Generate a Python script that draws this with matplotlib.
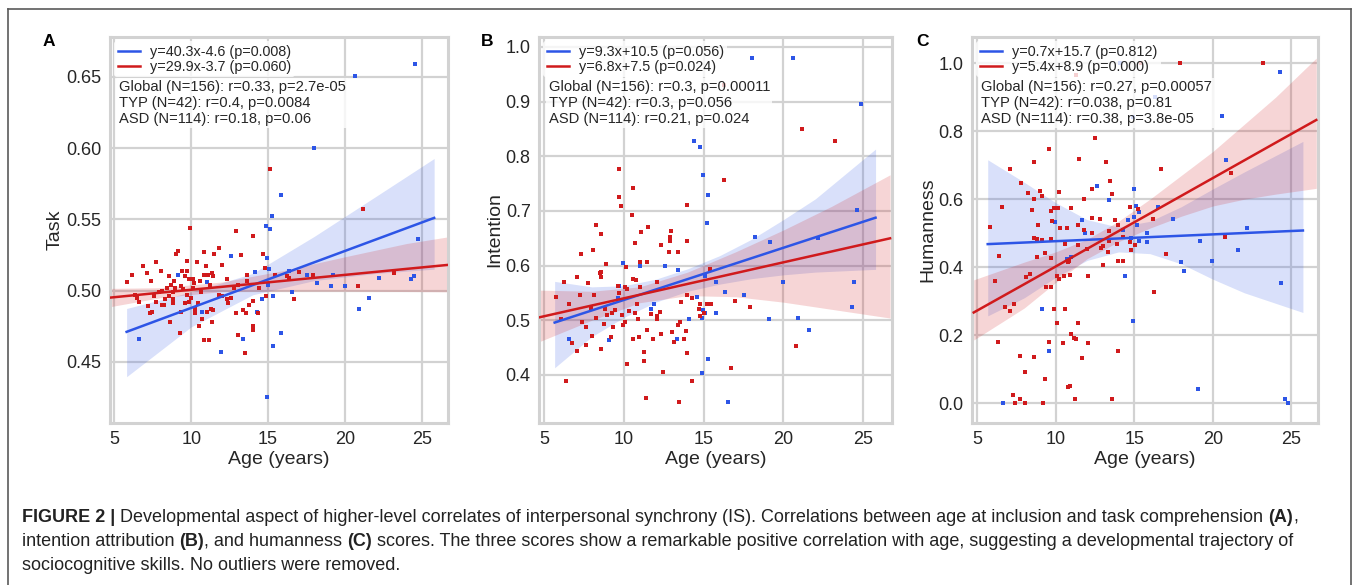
import matplotlib
matplotlib.use("Agg")
import matplotlib.pyplot as plt
from matplotlib.lines import Line2D
import numpy as np

plt.rcParams['font.family'] = ['Liberation Sans', 'DejaVu Sans']

BLUE = '#2d55e6'
RED = '#d01a1c'
GRID = '#d2d2d2'
TXT = '#262626'

# ---------------- Panel A (Task) ----------------
A_typ_age = [24.57, 20.62, 17.99, 15.82, 15.24, 14.85, 15.10, 14.91, 12.59, 24.78, 15.04, 9.12, 14.15,
             16.35, 17.52, 19.19, 22.22, 24.46, 24.31, 18.21, 19.10, 20.01, 15.02, 16.54, 15.33, 14.61,
             21.59, 20.90, 11.03, 10.73, 14.31, 6.63, 13.35, 11.92, 15.82, 15.30, 14.91]
A_typ_val = [0.659, 0.6505, 0.600, 0.567, 0.552, 0.545, 0.543, 0.5225, 0.524, 0.536, 0.515, 0.511, 0.513,
             0.514, 0.511, 0.511, 0.509, 0.510, 0.508, 0.505, 0.503, 0.503, 0.504, 0.499, 0.496, 0.494,
             0.495, 0.487, 0.506, 0.485, 0.485, 0.466, 0.466, 0.457, 0.470, 0.461, 0.425]
A_asd_age = [15.13, 21.20, 9.92, 12.92, 14.00, 13.22, 14.70, 11.81, 11.51, 10.84, 9.12, 9.01, 9.75, 10.36,
             7.71, 8.02, 6.84, 6.13, 5.80, 7.14, 7.40, 8.58, 8.86, 8.67, 8.41, 8.08, 9.40, 9.70, 9.62,
             9.86, 10.10, 10.20, 9.32, 8.97, 10.94, 11.12, 11.36, 10.84, 10.57, 10.10, 10.64, 9.75, 9.45,
             8.84, 8.54, 8.32, 7.93, 7.73, 6.35, 6.46, 6.63, 7.19, 7.43, 7.32, 8.12, 8.25, 8.80, 8.84,
             8.62, 9.27, 9.32, 9.60, 9.88, 10.00, 10.25, 10.47, 10.25, 10.53, 10.68, 10.84, 11.14, 11.01,
             11.27, 11.40, 11.34, 11.81, 12.03, 12.31, 12.38, 12.59, 12.00, 12.31, 13.05, 12.92, 13.35,
             13.57, 13.05, 13.52, 13.61, 13.65, 14.00, 13.78, 14.03, 14.03, 14.39, 14.33, 14.81, 14.85,
             15.43, 16.22, 16.33, 16.69, 17.02, 17.95, 20.82, 23.20, 11.45, 12.80, 11.20, 7.60]
A_asd_val = [0.585, 0.557, 0.544, 0.542, 0.538, 0.525, 0.526, 0.530, 0.526, 0.527, 0.528, 0.526, 0.521, 0.520,
             0.520, 0.514, 0.517, 0.511, 0.506, 0.512, 0.507, 0.510, 0.507, 0.504, 0.502, 0.500, 0.514,
             0.514, 0.510, 0.508, 0.508, 0.505, 0.503, 0.502, 0.517, 0.511, 0.512, 0.511, 0.507, 0.502,
             0.499, 0.497, 0.501, 0.499, 0.496, 0.494, 0.499, 0.492, 0.497, 0.495, 0.492, 0.489, 0.485,
             0.484, 0.490, 0.490, 0.494, 0.491, 0.478, 0.470, 0.485, 0.491, 0.492, 0.495, 0.484, 0.491,
             0.487, 0.475, 0.480, 0.465, 0.465, 0.485, 0.487, 0.486, 0.478, 0.497, 0.496, 0.494, 0.491,
             0.495, 0.518, 0.508, 0.504, 0.484, 0.486, 0.484, 0.469, 0.456, 0.511, 0.507, 0.493, 0.490,
             0.475, 0.472, 0.502, 0.484, 0.516, 0.496, 0.511, 0.510, 0.509, 0.494, 0.513, 0.511, 0.503,
             0.512, 0.510, 0.502, 0.504, 0.496]
A_typ_fit_x = [5.8, 10, 14, 18, 22, 25.8]
A_typ_fit_y = [0.471, 0.4878, 0.5038, 0.5198, 0.5358, 0.551]
A_typ_ci_lo = [0.4395, 0.4745, 0.4970, 0.5070, 0.5120, 0.5150]
A_typ_ci_hi = [0.4874, 0.4990, 0.5120, 0.5380, 0.5660, 0.5927]
A_asd_fit_x = [4.7, 8, 12, 16, 20, 24, 26.7]
A_asd_fit_y = [0.4950, 0.4985, 0.5026, 0.5068, 0.5110, 0.5152, 0.5180]
A_asd_ci_lo = [0.4886, 0.4950, 0.4993, 0.4995, 0.4995, 0.4993, 0.4991]
A_asd_ci_hi = [0.5015, 0.5020, 0.5060, 0.5140, 0.5237, 0.5330, 0.5377]

# ---------------- Panel B (Intention) ----------------
B_typ_age = [18.03, 20.60, 24.83, 14.42, 14.78, 14.99, 15.30, 15.20, 24.58, 18.19, 19.18, 22.19, 9.98,
             11.01, 12.58, 13.42, 15.09, 9.72, 9.61, 15.76, 16.31, 17.50, 14.59, 11.89, 11.70, 14.95,
             15.09, 15.79, 14.11, 14.93, 19.11, 20.90, 21.59, 19.97, 24.41, 24.31, 6.57, 9.08, 13.31,
             15.26, 14.91, 16.50]
B_typ_val = [0.979, 0.979, 0.895, 0.828, 0.817, 0.765, 0.729, 0.678, 0.702, 0.652, 0.643, 0.650, 0.604,
             0.600, 0.599, 0.592, 0.581, 0.563, 0.540, 0.569, 0.551, 0.547, 0.543, 0.529, 0.520, 0.518,
             0.514, 0.513, 0.502, 0.504, 0.502, 0.504, 0.483, 0.569, 0.569, 0.525, 0.466, 0.463, 0.466,
             0.429, 0.404, 0.351]
B_asd_age = [21.19, 23.20, 9.69, 16.29, 9.67, 9.80, 10.57, 13.98, 10.49, 8.29, 8.60, 11.49, 11.07, 12.98,
             12.87, 12.87, 13.98, 10.72, 12.31, 7.30, 8.10, 12.81, 13.40, 8.87, 10.11, 11.00, 11.43, 8.48,
             8.60, 8.60, 7.07, 6.28, 7.79, 12.06, 10.55, 10.74, 9.61, 10.07, 10.21, 7.28, 8.16, 5.77, 9.67,
             15.37, 13.98, 14.28, 13.59, 16.98, 17.88, 14.78, 15.20, 6.57, 7.97, 8.81, 9.44, 9.25, 8.98,
             9.90, 10.80, 10.32, 10.72, 11.68, 12.10, 12.27, 6.09, 8.29, 10.07, 10.91, 12.06, 14.78,
             15.03, 14.74, 7.41, 7.66, 8.79, 9.35, 9.92, 13.54, 13.42, 13.90, 12.31, 11.81, 13.00, 11.47,
             10.93, 10.55, 9.19, 8.00, 6.78, 7.09, 7.66, 8.58, 13.15, 13.80, 11.28, 11.28, 13.98, 10.19,
             12.48, 14.30, 6.38, 11.39, 13.48, 16.71, 20.77, 15.45, 11.03, 16.30]
B_asd_val = [0.850, 0.828, 0.776, 0.756, 0.725, 0.709, 0.741, 0.711, 0.692, 0.674, 0.658, 0.670, 0.662,
             0.663, 0.652, 0.645, 0.644, 0.641, 0.638, 0.622, 0.628, 0.625, 0.624, 0.602, 0.598, 0.606,
             0.606, 0.586, 0.588, 0.579, 0.579, 0.570, 0.568, 0.569, 0.575, 0.574, 0.563, 0.560, 0.557,
             0.547, 0.547, 0.542, 0.550, 0.593, 0.547, 0.541, 0.534, 0.535, 0.524, 0.530, 0.530, 0.530,
             0.523, 0.521, 0.519, 0.514, 0.510, 0.510, 0.530, 0.517, 0.513, 0.511, 0.507, 0.515, 0.502,
             0.504, 0.497, 0.502, 0.502, 0.507, 0.514, 0.520, 0.497, 0.488, 0.493, 0.487, 0.491, 0.496,
             0.491, 0.481, 0.474, 0.466, 0.479, 0.482, 0.470, 0.466, 0.469, 0.471, 0.458, 0.444, 0.455,
             0.447, 0.461, 0.466, 0.442, 0.426, 0.440, 0.420, 0.406, 0.388, 0.389, 0.357, 0.350, 0.413,
             0.452, 0.530, 0.561, 0.930]
B_typ_fit_x = [5.67, 8, 10, 12, 14, 16, 18, 20, 22, 25.77]
B_typ_fit_y = [0.4957, 0.5179, 0.5370, 0.5561, 0.5752, 0.5943, 0.6134, 0.6325, 0.6516, 0.6875]
B_typ_ci_lo = [0.413, 0.470, 0.505, 0.533, 0.553, 0.566, 0.576, 0.583, 0.588, 0.593]
B_typ_ci_hi = [0.571, 0.561, 0.563, 0.575, 0.594, 0.618, 0.648, 0.684, 0.722, 0.813]
B_asd_fit_x = [4.73, 8, 11, 14, 17, 20, 23, 26.68]
B_asd_fit_y = [0.5054, 0.5269, 0.5466, 0.5664, 0.5861, 0.6059, 0.6256, 0.6498]
B_asd_ci_lo = [0.461, 0.500, 0.532, 0.545, 0.543, 0.533, 0.520, 0.504]
B_asd_ci_hi = [0.555, 0.553, 0.561, 0.588, 0.625, 0.665, 0.708, 0.766]

# ---------------- Panel C (Humanness) ----------------
C_typ_age = [24.28, 20.58, 20.87, 14.99, 12.62, 13.40, 15.14, 16.49, 15.29, 17.49, 11.71, 14.61, 14.99,
             15.20, 11.90, 15.79, 22.16, 9.99, 14.31, 14.78, 15.29, 15.79, 19.20, 21.59, 19.98, 17.97,
             18.19, 14.42, 10.71, 11.01, 24.37, 14.90, 9.13, 9.61, 19.07, 24.58, 24.79, 6.65, 16.32,
             14.10, 14.95]
C_typ_val = [0.975, 0.846, 0.715, 0.629, 0.639, 0.597, 0.580, 0.576, 0.563, 0.542, 0.539, 0.539, 0.549,
             0.523, 0.501, 0.500, 0.516, 0.533, 0.510, 0.486, 0.477, 0.475, 0.478, 0.451, 0.419, 0.415,
             0.388, 0.375, 0.425, 0.431, 0.355, 0.243, 0.276, 0.154, 0.041, 0.013, 0.001, 0.001, 0.902,
             1.000, 0.843]
C_asd_age = [23.20, 17.91, 15.41, 11.31, 12.51, 9.61, 11.52, 8.60, 13.19, 16.70, 7.12, 21.17, 13.49, 7.81,
             12.30, 8.22, 10.19, 13.61, 8.98, 9.11, 8.60, 11.79, 6.61, 8.49, 9.70, 9.93, 10.14, 11.00,
             14.71, 15.22, 5.80, 8.89, 9.78, 10.31, 10.71, 11.41, 11.79, 12.32, 12.81, 13.78, 13.40, 13.99,
             14.31, 16.20, 8.60, 8.81, 9.15, 9.72, 12.30, 13.42, 10.61, 11.41, 11.98, 12.89, 13.00, 13.93,
             13.32, 15.05, 14.82, 14.74, 20.81, 17.00, 6.42, 8.81, 9.32, 9.70, 10.76, 10.86, 13.00, 13.99,
             14.31, 6.12, 8.13, 8.34, 10.08, 10.23, 10.55, 10.90, 12.09, 9.40, 9.70, 16.28, 6.80, 7.12,
             7.33, 9.89, 10.61, 10.12, 11.41, 10.99, 11.14, 11.29, 6.31, 9.61, 10.50, 12.09, 13.99, 7.71,
             8.60, 11.71, 8.03, 9.30, 10.78, 10.93, 7.29, 7.71, 11.22, 13.61, 7.43, 8.03, 9.19]
C_asd_val = [1.000, 1.000, 1.000, 0.966, 0.781, 0.748, 0.717, 0.710, 0.709, 0.688, 0.688, 0.678, 0.653, 0.647,
             0.630, 0.618, 0.620, 0.615, 0.625, 0.609, 0.602, 0.602, 0.578, 0.568, 0.566, 0.574, 0.574,
             0.573, 0.578, 0.571, 0.517, 0.524, 0.537, 0.515, 0.515, 0.523, 0.510, 0.544, 0.542, 0.539,
             0.508, 0.524, 0.490, 0.542, 0.486, 0.482, 0.480, 0.484, 0.500, 0.478, 0.468, 0.465, 0.453,
             0.456, 0.461, 0.468, 0.446, 0.464, 0.451, 0.473, 0.490, 0.439, 0.433, 0.429, 0.441, 0.428,
             0.415, 0.417, 0.407, 0.417, 0.417, 0.360, 0.371, 0.379, 0.375, 0.366, 0.375, 0.377, 0.375,
             0.343, 0.343, 0.327, 0.284, 0.272, 0.291, 0.277, 0.277, 0.235, 0.237, 0.204, 0.191, 0.188,
             0.181, 0.181, 0.178, 0.176, 0.155, 0.140, 0.137, 0.134, 0.093, 0.071, 0.049, 0.051, 0.025,
             0.013, 0.013, 0.012, 0.002, 0.002, 0.002]
C_typ_fit_x = [5.68, 8, 10, 12, 14, 16, 18, 20, 22, 25.74]
C_typ_fit_y = [0.468, 0.4726, 0.4766, 0.4806, 0.4846, 0.4886, 0.4926, 0.4966, 0.5006, 0.508]
C_typ_ci_lo = [0.257, 0.310, 0.370, 0.420, 0.445, 0.440, 0.410, 0.365, 0.325, 0.267]
C_typ_ci_hi = [0.716, 0.650, 0.590, 0.540, 0.518, 0.535, 0.578, 0.630, 0.680, 0.770]
C_asd_fit_x = [4.79, 8, 10, 12, 14, 16, 18, 20, 22, 24, 26.59]
C_asd_fit_y = [0.267, 0.350, 0.402, 0.454, 0.506, 0.558, 0.610, 0.662, 0.714, 0.766, 0.833]
C_asd_ci_lo = [0.186, 0.280, 0.355, 0.425, 0.475, 0.515, 0.550, 0.580, 0.600, 0.615, 0.632]
C_asd_ci_hi = [0.363, 0.415, 0.445, 0.482, 0.535, 0.600, 0.670, 0.740, 0.820, 0.900, 1.015]

panel_letters = ['A', 'B', 'C']
y_labels = ['Task', 'Intention', 'Humanness']
x_label = 'Age (years)'
legend_texts = [
    ['y=40.3x-4.6 (p=0.008)', 'y=29.9x-3.7 (p=0.060)'],
    ['y=9.3x+10.5 (p=0.056)', 'y=6.8x+7.5 (p=0.024)'],
    ['y=0.7x+15.7 (p=0.812)', 'y=5.4x+8.9 (p=0.000)'],
]
stat_texts = [
    'Global (N=156): r=0.33, p=2.7e-05\nTYP (N=42): r=0.4, p=0.0084\nASD (N=114): r=0.18, p=0.06',
    'Global (N=156): r=0.3, p=0.00011\nTYP (N=42): r=0.3, p=0.056\nASD (N=114): r=0.21, p=0.024',
    'Global (N=156): r=0.27, p=0.00057\nTYP (N=42): r=0.038, p=0.81\nASD (N=114): r=0.38, p=3.8e-05',
]
y_ticks = [[0.45, 0.50, 0.55, 0.60, 0.65],
           [0.4, 0.5, 0.6, 0.7, 0.8, 0.9, 1.0],
           [0.0, 0.2, 0.4, 0.6, 0.8, 1.0]]
y_ticklabels = [['0.45', '0.50', '0.55', '0.60', '0.65'],
                ['0.4', '0.5', '0.6', '0.7', '0.8', '0.9', '1.0'],
                ['0.0', '0.2', '0.4', '0.6', '0.8', '1.0']]
x_ticks = [5, 10, 15, 20, 25]
y_lims = [(0.407, 0.678), (0.312, 1.018), (-0.058, 1.077)]
x_lims = [(4.72, 26.7), (4.69, 26.8), (4.68, 26.7)]

caption_lines = [
    [('FIGURE 2 | ', 'bold'), ('Developmental aspect of higher-level correlates of interpersonal synchrony (IS). '
      'Correlations between age at inclusion and task comprehension ', 'normal'), ('(A)', 'bold'), (',', 'normal')],
    [('intention attribution ', 'normal'), ('(B)', 'bold'), (', and humanness ', 'normal'), ('(C)', 'bold'),
     (' scores. The three scores show a remarkable positive correlation with age, suggesting a developmental '
      'trajectory of', 'normal')],
    [('sociocognitive skills. No outliers were removed.', 'normal')],
]

panels = [
    (A_typ_age, A_typ_val, A_asd_age, A_asd_val, A_typ_fit_x, A_typ_fit_y, A_typ_ci_lo, A_typ_ci_hi,
     A_asd_fit_x, A_asd_fit_y, A_asd_ci_lo, A_asd_ci_hi),
    (B_typ_age, B_typ_val, B_asd_age, B_asd_val, B_typ_fit_x, B_typ_fit_y, B_typ_ci_lo, B_typ_ci_hi,
     B_asd_fit_x, B_asd_fit_y, B_asd_ci_lo, B_asd_ci_hi),
    (C_typ_age, C_typ_val, C_asd_age, C_asd_val, C_typ_fit_x, C_typ_fit_y, C_typ_ci_lo, C_typ_ci_hi,
     C_asd_fit_x, C_asd_fit_y, C_asd_ci_lo, C_asd_ci_hi),
]

W, H = 1357, 585
fig = plt.figure(figsize=(W / 100, H / 100), dpi=100)

# axes boxes in pixels: left, right, top, bottom
boxes = [(110, 448, 37, 423), (539, 892, 37, 423), (972, 1318, 37, 423)]
letter_x = [43, 481, 916]
ylabel_x = [55, 495, 928]

for i, (box, data) in enumerate(zip(boxes, panels)):
    l, r, t, b = box
    ax = fig.add_axes([l / W, 1 - b / H, (r - l) / W, (b - t) / H])
    (ta, tv, aa, av, tfx, tfy, tlo, thi, afx, afy, alo, ahi) = data
    ax.set_facecolor('white')
    # TYP (blue)
    ax.scatter(ta, tv, s=12, marker='s', color=BLUE, linewidths=0, zorder=3)
    ax.fill_between(tfx, tlo, thi, color=BLUE, alpha=0.18, linewidth=0, zorder=2)
    ax.plot(tfx, tfy, color=BLUE, lw=1.8, zorder=4)
    # ASD (red)
    ax.scatter(aa, av, s=12, marker='s', color=RED, linewidths=0, zorder=3)
    ax.fill_between(afx, alo, ahi, color=RED, alpha=0.18, linewidth=0, zorder=2)
    ax.plot(afx, afy, color=RED, lw=1.8, zorder=4)

    ax.set_xlim(*x_lims[i])
    ax.set_ylim(*y_lims[i])
    ax.set_xticks(x_ticks)
    ax.set_xticklabels([str(v) for v in x_ticks])
    ax.set_yticks(y_ticks[i])
    ax.set_yticklabels(y_ticklabels[i])
    ax.tick_params(length=0, labelsize=13, colors=TXT, pad=6)
    ax.grid(True, color=GRID, lw=1.6, zorder=0)
    ax.set_axisbelow(True)
    for sp in ax.spines.values():
        sp.set_color(GRID)
        sp.set_linewidth(2.2)
    ax.set_xlabel(x_label, fontsize=14, color=TXT, labelpad=2)
    fig.text(ylabel_x[i] / W, 1 - 230 / H, y_labels[i], rotation=90, fontsize=14, color=TXT,
             ha='center', va='center')
    fig.text(letter_x[i] / W, 1 - 41 / H, panel_letters[i], fontsize=12.5, fontweight='bold',
             color='black', ha='left', va='center')

    handles = [Line2D([], [], color=BLUE, lw=1.8), Line2D([], [], color=RED, lw=1.8)]
    leg = ax.legend(handles, legend_texts[i], loc='upper left', fontsize=10.4, frameon=True,
                    framealpha=0.8, facecolor='white', edgecolor='none', handlelength=1.55,
                    handletextpad=0.65, borderpad=0.25, labelspacing=0.05,
                    bbox_to_anchor=(0.0, 1.0), borderaxespad=0.3)
    leg.set_zorder(6)
    leg.get_frame().set_linewidth(0)
    for txt in leg.get_texts():
        txt.set_color(TXT)
    ax.text(0.027, 0.888, stat_texts[i], transform=ax.transAxes, fontsize=10.6, color=TXT,
            va='top', ha='left', linespacing=1.16, zorder=6,
            bbox=dict(facecolor='white', alpha=0.8, edgecolor='none', pad=1.5))

# outer frame
frame_col = '#5a5a5a'
fig.add_artist(Line2D([8 / W, 8 / W], [0, 1 - 9 / H], transform=fig.transFigure, color=frame_col, lw=1.2))
fig.add_artist(Line2D([1351 / W, 1351 / W], [0, 1 - 9 / H], transform=fig.transFigure, color=frame_col, lw=1.2))
fig.add_artist(Line2D([8 / W, 1351 / W], [1 - 9 / H, 1 - 9 / H], transform=fig.transFigure, color=frame_col, lw=1.2))

# caption with mixed bold/normal runs
fig.canvas.draw()
renderer = fig.canvas.get_renderer()
line_y = [517, 541, 565]
cap_size = 12.95
for yy, segs in zip(line_y, caption_lines):
    x = 22.0
    for s, w in segs:
        t = fig.text(x / W, 1 - yy / H, s, fontsize=cap_size, fontweight=w, color='#222222',
                     ha='left', va='center')
        bb = t.get_window_extent(renderer=renderer)
        x += bb.width

fig.savefig('out.png', dpi=100)
